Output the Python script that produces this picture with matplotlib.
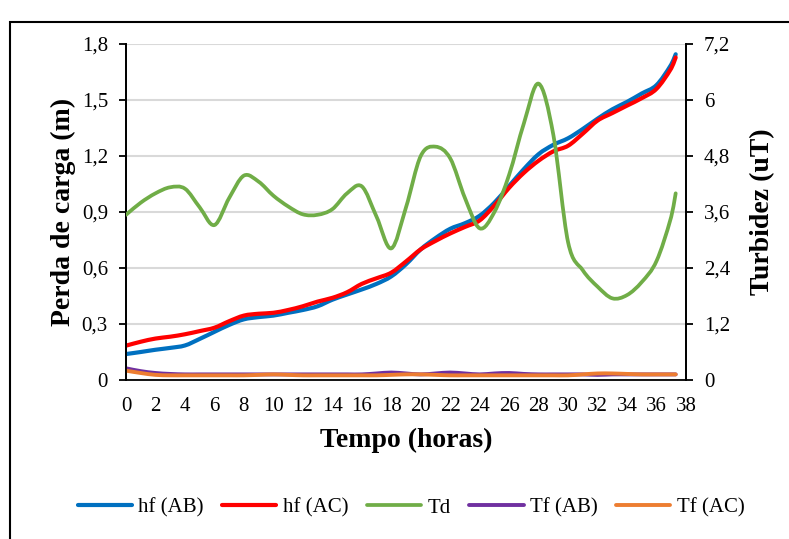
import matplotlib
matplotlib.use('Agg')
import matplotlib.pyplot as plt
from matplotlib.patches import Rectangle, PathPatch
from matplotlib.path import Path
from matplotlib.lines import Line2D
from matplotlib.ticker import FuncFormatter, MultipleLocator

plt.rcParams['font.family'] = ['Liberation Serif', 'DejaVu Serif']

#%% data
hours = [0, 1, 2, 3, 4, 5, 6, 7, 8, 9, 10, 11, 12, 13, 14, 15, 16, 17, 18, 19,
         20, 21, 22, 23, 24, 25, 26, 27, 28, 29, 30, 31, 32, 33, 34, 35, 36, 37, 37.3]
hf_ab = [0.139, 0.150, 0.162, 0.172, 0.185, 0.220, 0.258, 0.295, 0.325, 0.337,
         0.345, 0.360, 0.375, 0.395, 0.430, 0.458, 0.485, 0.515, 0.555, 0.620,
         0.700, 0.760, 0.810, 0.840, 0.880, 0.950, 1.040, 1.130, 1.210, 1.260,
         1.295, 1.345, 1.400, 1.450, 1.490, 1.535, 1.580, 1.690, 1.745]
hf_ac = [0.184, 0.205, 0.222, 0.232, 0.245, 0.262, 0.280, 0.315, 0.345, 0.355,
         0.360, 0.375, 0.395, 0.420, 0.440, 0.470, 0.515, 0.545, 0.575, 0.635,
         0.700, 0.745, 0.785, 0.820, 0.855, 0.935, 1.030, 1.110, 1.175, 1.225,
         1.255, 1.320, 1.390, 1.430, 1.470, 1.510, 1.560, 1.670, 1.728]
td = [3.54, 3.80, 4.00, 4.13, 4.10, 3.70, 3.32, 3.90, 4.38, 4.25,
      3.95, 3.72, 3.55, 3.54, 3.66, 4.00, 4.15, 3.50, 2.82, 3.70,
      4.80, 5.00, 4.75, 3.90, 3.25, 3.60, 4.40, 5.50, 6.35, 5.25,
      2.95, 2.35, 2.00, 1.75, 1.82, 2.10, 2.55, 3.50, 4.00]
tf_ab = [0.25, 0.19, 0.15, 0.13, 0.12, 0.12, 0.12, 0.12, 0.12, 0.12,
         0.12, 0.12, 0.12, 0.12, 0.12, 0.12, 0.12, 0.14, 0.16, 0.14,
         0.12, 0.14, 0.16, 0.14, 0.12, 0.14, 0.15, 0.13, 0.12, 0.12,
         0.12, 0.12, 0.11, 0.12, 0.12, 0.12, 0.12, 0.12, 0.12]
tf_ac = [0.20, 0.15, 0.11, 0.10, 0.10, 0.10, 0.10, 0.10, 0.10, 0.11,
         0.12, 0.11, 0.10, 0.10, 0.10, 0.10, 0.10, 0.10, 0.11, 0.12,
         0.12, 0.11, 0.10, 0.10, 0.10, 0.10, 0.10, 0.10, 0.10, 0.10,
         0.10, 0.12, 0.14, 0.14, 0.13, 0.12, 0.12, 0.12, 0.12]

def comma(v, pos):
    if abs(v - round(v)) < 1e-9:
        return str(int(round(v)))
    return ('%.1f' % v).replace('.', ',')

# Excel-like smoothed line: bezier segments through the data points
def smooth_line(ax, x, y, color, lw, label, z):
    verts = [(x[0], y[0])]
    codes = [Path.MOVETO]
    n = len(x)
    for i in range(n - 1):
        x0, y0 = x[max(i - 1, 0)], y[max(i - 1, 0)]
        x3, y3 = x[min(i + 2, n - 1)], y[min(i + 2, n - 1)]
        seg = x[i + 1] - x[i]
        k1 = seg / (x[i + 1] - x0) / 3 if x[i + 1] != x0 else 0
        k2 = seg / (x3 - x[i]) / 3 if x3 != x[i] else 0
        c1 = (x[i] + (x[i + 1] - x0) * k1, y[i] + (y[i + 1] - y0) * k1)
        c2 = (x[i + 1] - (x3 - x[i]) * k2, y[i + 1] - (y3 - y[i]) * k2)
        verts += [c1, c2, (x[i + 1], y[i + 1])]
        codes += [Path.CURVE4] * 3
    ax.add_patch(PathPatch(Path(verts, codes), facecolor='none', edgecolor=color,
                           lw=lw, capstyle='round', joinstyle='round', zorder=z))
    return Line2D([], [], color=color, lw=lw, solid_capstyle='round', label=label)

#%%
fig = plt.figure(figsize=(7.89, 5.39), dpi=100)
fig.patches.append(Rectangle((10/789, -0.1), 1.2, 1 - 22/539 + 0.1, transform=fig.transFigure,
                             fill=False, edgecolor='black', linewidth=1.5))
ax = fig.add_axes([126/789, 1 - 380/539, 560/789, 336/539])
ax2 = ax.twinx()

l1 = smooth_line(ax, hours, hf_ab, '#0070c0', 3.0, 'hf (AB)', 3)
l2 = smooth_line(ax, hours, hf_ac, '#ff0000', 3.0, 'hf (AC)', 4)
l3 = smooth_line(ax2, hours, td, '#70ad47', 2.7, 'Td', 3)
l4 = smooth_line(ax2, hours, tf_ab, '#7030a0', 2.8, 'Tf (AB)', 2)
l5 = smooth_line(ax2, hours, tf_ac, '#ed7d31', 2.8, 'Tf (AC)', 2)

ax.set_xlim(0, 38)
ax.set_ylim(0, 1.8)
ax2.set_ylim(0, 7.2)
ax.xaxis.set_major_locator(MultipleLocator(2))
ax.yaxis.set_major_locator(MultipleLocator(0.3))
ax2.yaxis.set_major_locator(MultipleLocator(1.2))
ax.yaxis.set_major_formatter(FuncFormatter(comma))
ax2.yaxis.set_major_formatter(FuncFormatter(comma))
ax.grid(axis='y', color='#d9d9d9', lw=1.5)
ax.set_axisbelow(True)

for a in (ax, ax2):
    a.spines['top'].set_visible(False)
    for s in a.spines.values():
        s.set_linewidth(1.3)
ax2.spines['bottom'].set_visible(False)
ax.tick_params(axis='x', length=0, labelsize=15, pad=12)
ax.tick_params(axis='y', length=5, width=1.3, labelsize=15, pad=8)
ax2.tick_params(axis='y', length=5, width=1.3, labelsize=15, pad=8)

ax.set_xlabel('Tempo (horas)', fontsize=20, fontweight='bold', labelpad=9)
ax.set_ylabel('Perda de carga (m)', fontsize=20, fontweight='bold', labelpad=4)
ax2.set_ylabel('Turbidez (uT)', fontsize=20, fontweight='bold', labelpad=14)

fig.legend(handles=[l1, l2, l3, l4, l5], loc='center', bbox_to_anchor=(0.521, 1 - 508/539),
           ncol=5, frameon=False, fontsize=15, handlelength=2.6, handletextpad=0.3,
           columnspacing=0.9)

plt.savefig('out.png', dpi=100)
